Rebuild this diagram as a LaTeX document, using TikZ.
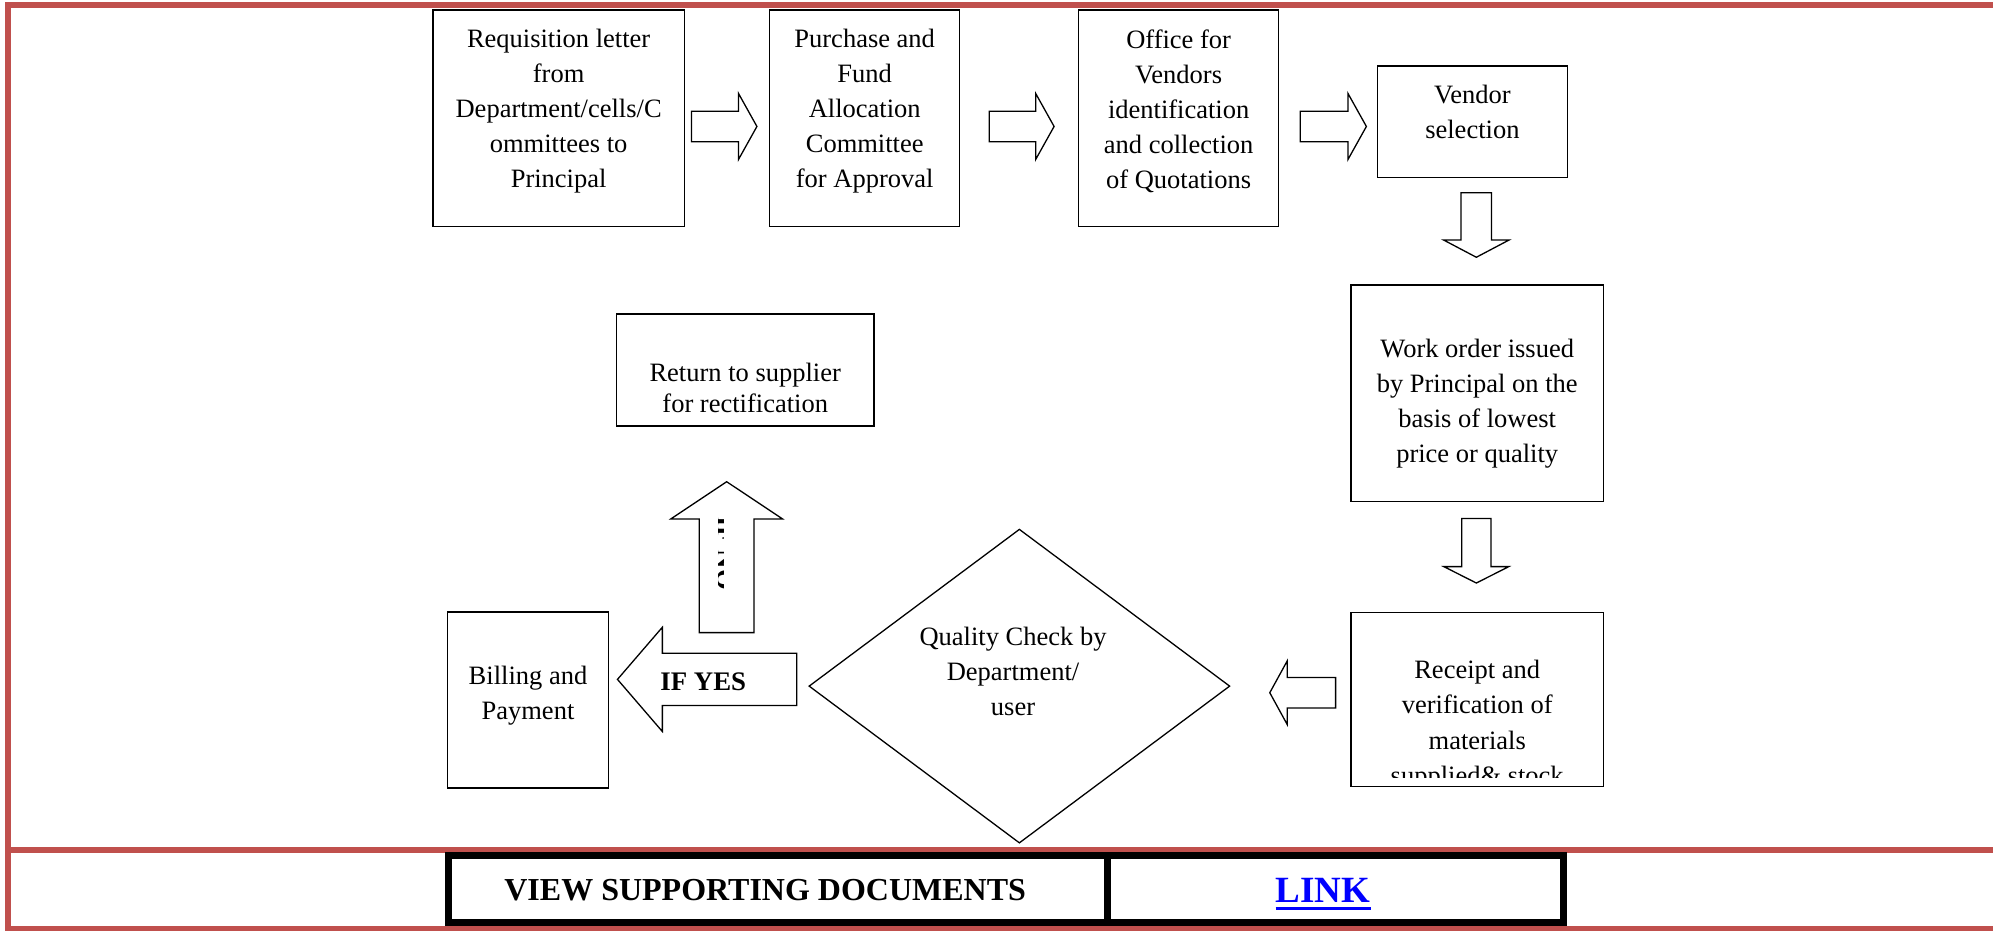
\documentclass[tikz,border=0pt]{standalone}
\usepackage{fontspec}
\setmainfont{Liberation Serif}
\usetikzlibrary{fit,shapes.geometric}
\definecolor{framered}{HTML}{C0504D}
\definecolor{linkblue}{HTML}{0000FF}
\tikzset{
  box/.style={draw, line width=1.4pt, inner sep=0pt},
  txt/.style={align=center, inner sep=0pt, font=\fontsize{26.5}{35.2}\selectfont},
  tighttxt/.style={align=center, inner sep=0pt, font=\fontsize{26.5}{30.5}\selectfont},
  boldtxt/.style={inner sep=0pt, anchor=base, font=\bfseries\fontsize{26.8}{30}\selectfont},
  barrowline/.style={draw, line width=1.3pt, fill=white, line join=miter},
  frameline/.style={draw=framered, line width=6pt},
  tblcell/.style={draw=black, line width=7pt, inner sep=0pt},
}
\newcommand\blockarrow[7]{%
  \begin{scope}[shift={#2}, rotate=#3]
    \draw[barrowline] (0,-#5) -- ({#4-#7},-#5) -- ({#4-#7},-#6) -- (#4,0)
      -- ({#4-#7},#6) -- ({#4-#7},#5) -- (0,#5) -- cycle;
    \coordinate (#1) at (#4,0);
  \end{scope}}
\begin{document}
\begin{tikzpicture}[x=1.2711pt,y=-1.2711pt]
\useasboundingbox (0,0) rectangle (1568,732);
% red frame
\draw[frameline] (6.3,3.9) rectangle (1571,730.5);
\draw[frameline] (6.3,668.7) -- (1571,668.7);
% boxes
\node[box, fit={(340.7,7.9) (538.4,178.3)}] (b1) {};
\node[box, fit={(605.5,7.9) (755,178.3)}] (b2) {};
\node[box, fit={(848.6,7.9) (1006,178.3)}] (b3) {};
\node[box, fit={(1083.7,52) (1233,139.8)}] (b4) {};
\node[box, fit={(1062.8,224.2) (1261.5,394.7)}] (b5) {};
\node[box, fit={(1062.8,482) (1261.5,619)}] (b6) {};
\node[box, fit={(485,247) (687.6,335)}] (ret) {};
\node[box, fit={(352,481.6) (478.5,620)}] (bill) {};
\node[draw, diamond, line width=1.3pt, inner sep=0pt, minimum width=421pt, minimum height=314pt] (qc) at (802,539.8) {};
% texts
\node[txt] (t1) at (439.5,87.5) {Requisition letter\\from\\Department/cells/C\\ommittees to\\Principal};
\node[txt] (t2) at (680.3,87.5) {Purchase and\\Fund\\Allocation\\Committee\\for Approval};
\node[txt] (t3) at (927.3,87.5) {Office for\\Vendors\\identification\\and collection\\of Quotations};
\node[txt] (t4) at (1158.4,88) {Vendor\\selection};
\node[txt] (t5) at (1162.2,317.5) {Work order issued\\by Principal on the\\basis of lowest\\price or quality};
\begin{scope}
  \clip (1062.8,482) rectangle (1261.5,612);
  \node[txt] (t6) at (1162.2,570.5) {Receipt and\\verification of\\materials\\supplied\& stock};
\end{scope}
\node[tighttxt] (tret) at (586.3,305.3) {Return to supplier\\for rectification};
\node[txt] (tbill) at (415.4,547.5) {Billing and\\Payment};
\node[txt] (tqc) at (797,528.4) {Quality Check by\\Department/\\user};
% block arrows
\blockarrow{a1}{(544,99.5)}{0}{51.5}{12}{26}{14.5}
\blockarrow{a2}{(778.3,99.5)}{0}{51}{12}{26}{14.5}
\blockarrow{a3}{(1023,99.5)}{0}{52}{12}{26}{14.5}
\blockarrow{d1}{(1161.5,151.6)}{-90}{50.8}{12}{25.8}{13.6}
\blockarrow{d2}{(1161.5,408)}{-90}{50.7}{11.5}{25.5}{12.9}
\blockarrow{l1}{(1050.8,545)}{180}{51.8}{12}{25}{13.7}
\blockarrow{yes}{(626.8,534.5)}{180}{141}{20.5}{41}{35.3}
\blockarrow{no}{(571.7,497.7)}{90}{118.7}{21.5}{44}{29.3}
\node[boldtxt] (ifyes) at (553.3,542.9) {IF YES};
\begin{scope}
  \clip (565,400) rectangle (569.5,470);
  \node[boldtxt, rotate=-90] (ifno) at (564.3,435.3) {IF NO};
\end{scope}
% table
\node[tblcell, fit={(352.9,673.1) (871.7,725.7)}] (cellA) {};
\node[tblcell, fit={(871.7,673.1) (1230.4,725.7)}] (cellB) {};
\node[inner sep=0pt, anchor=base, font=\bfseries\fontsize{32}{36}\selectfont] (view) at (602,708.6) {VIEW SUPPORTING DOCUMENTS};
\node[inner sep=0pt, anchor=base, text=linkblue, font=\bfseries\fontsize{37}{40}\selectfont] (link) at (1041,710.2) {LINK};
\draw[linkblue, line width=2.8pt] ([yshift=-5.8pt]link.base west) -- ([yshift=-5.8pt]link.base east);
\end{tikzpicture}
\end{document}
